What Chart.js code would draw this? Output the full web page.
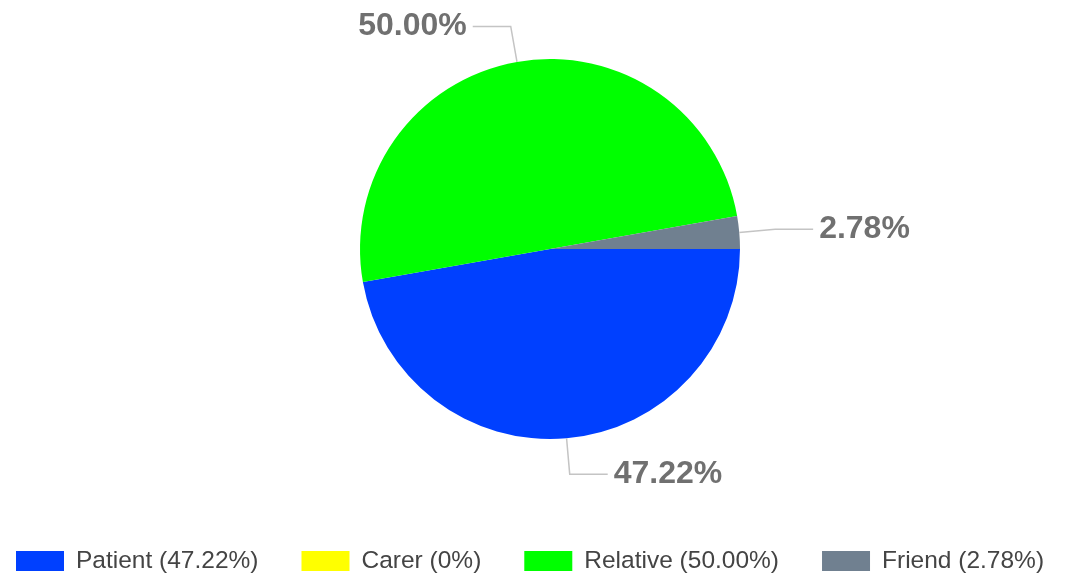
<!DOCTYPE html>
<html>
<head>
<meta charset="utf-8">
<script src="https://cdn.jsdelivr.net/npm/chart.js@4"></script>
<style>
html,body{margin:0;padding:0;background:#fff;}
#wrap{width:1068px;height:575px;position:relative;}
</style>
</head>
<body>
<div id="wrap"><canvas id="c" width="1068" height="575"></canvas></div>
<script>
const categories = ['Patient', 'Carer', 'Relative', 'Friend'];
const percentages = [47.22, 0, 50.00, 2.78];
const percentLabels = ['47.22%', '0%', '50.00%', '2.78%'];
const legendLabels = ['Patient (47.22%)', 'Carer (0%)', 'Relative (50.00%)', 'Friend (2.78%)'];
const colors = ['#0040ff', '#ffff00', '#00ff00', '#708090'];

const FONT = '"Liberation Sans", Arial, sans-serif';

const leaderPlugin = {
  id: 'leaders',
  afterDatasetsDraw(chart) {
    const ctx = chart.ctx;
    const meta = chart.getDatasetMeta(0);
    meta.data.forEach((arc, i) => {
      if (!percentages[i]) return;
      const p = arc.getProps(['x', 'y', 'startAngle', 'endAngle', 'outerRadius'], true);
      const m = (p.startAngle + p.endAngle) / 2;
      const c = Math.cos(m), s = Math.sin(m);
      const r = p.outerRadius;
      const x0 = p.x + r * c, y0 = p.y + r * s;
      const x1 = p.x + (r + 36) * c, y1 = p.y + (r + 36) * s;
      const dir = c >= 0 ? 1 : -1;
      const x2 = x1 + dir * 38;
      ctx.save();
      ctx.strokeStyle = '#c4c4c4';
      ctx.lineWidth = 1.5;
      ctx.beginPath();
      ctx.moveTo(x0, y0);
      ctx.lineTo(x1, y1);
      ctx.lineTo(x2, y1);
      ctx.stroke();
      ctx.fillStyle = '#707070';
      ctx.font = 'bold 32px ' + FONT;
      ctx.textBaseline = 'middle';
      ctx.textAlign = dir > 0 ? 'left' : 'right';
      ctx.fillText(percentLabels[i], x2 + dir * 6, y1);
      ctx.restore();
    });
  }
};

const legendPlugin = {
  id: 'customLegend',
  afterDraw(chart) {
    const ctx = chart.ctx;
    ctx.save();
    ctx.font = '24.5px ' + FONT;
    ctx.textBaseline = 'middle';
    ctx.textAlign = 'left';
    const boxW = 48, boxH = 20, gapText = 12, gapItem = 43;
    const top = 551;
    let x = 16;
    legendLabels.forEach((t, i) => {
      ctx.fillStyle = colors[i];
      ctx.fillRect(x, top, boxW, boxH);
      ctx.fillStyle = '#444444';
      ctx.fillText(t, x + boxW + gapText, top + boxH / 2);
      x += boxW + gapText + ctx.measureText(t).width + gapItem;
    });
    ctx.restore();
  }
};

new Chart(document.getElementById('c'), {
  type: 'pie',
  data: {
    labels: categories,
    datasets: [{
      data: percentages,
      backgroundColor: colors,
      borderWidth: 0,
      radius: 190
    }]
  },
  options: {
    responsive: false,
    animation: false,
    rotation: 90,
    layout: { padding: { top: 0, bottom: 77, left: 32, right: 0 } },
    plugins: {
      tooltip: { enabled: false },
      legend: { display: false }
    }
  },
  plugins: [leaderPlugin, legendPlugin]
});
</script>
</body>
</html>
